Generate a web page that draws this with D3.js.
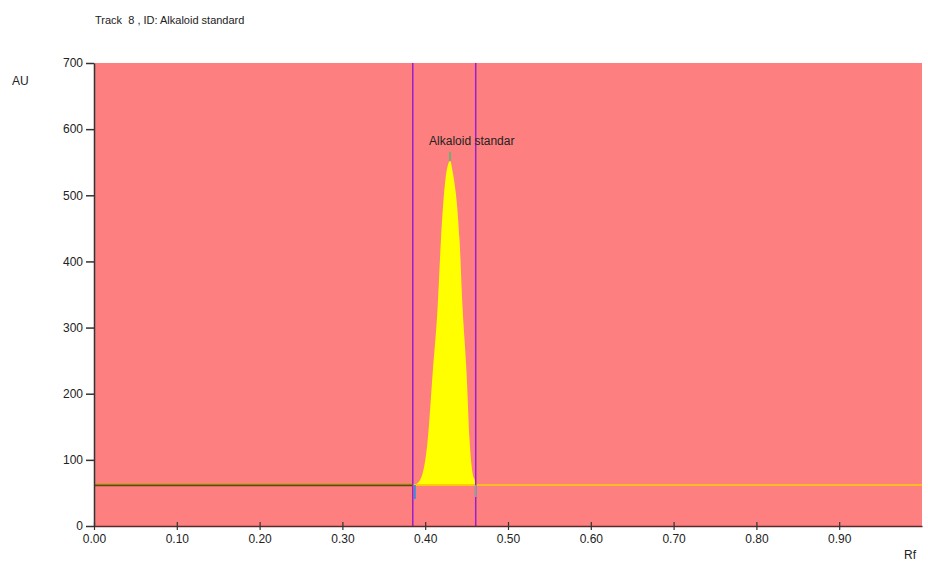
<!DOCTYPE html>
<html>
<head>
<meta charset="utf-8">
<script src="https://cdn.jsdelivr.net/npm/d3@7"></script>
<style>
  body { margin: 0; background: #fff; }
  text { font-family: "Liberation Sans", Arial, sans-serif; fill: #222; }
</style>
</head>
<body>
<div id="chart"></div>
<script>
// Data
const trackTitle = "Track  8 , ID: Alkaloid standard";
const peakName = "Alkaloid standar";
const yTicks = [0, 100, 200, 300, 400, 500, 600, 700];
const xTicks = [0, 0.1, 0.2, 0.3, 0.4, 0.5, 0.6, 0.7, 0.8, 0.9];

// baseline before and after the peak (Rf, AU)
const baselineLeft = [[0, 62], [0.385, 62]];
const baselineRight = [[0.461, 62], [1.0, 62]];

// peak profile (Rf, AU)
const peakRf = [0.385, 0.390, 0.397, 0.403, 0.409, 0.415, 0.419, 0.4255, 0.430, 0.4334, 0.4415, 0.4451, 0.450, 0.4536, 0.4572, 0.4608, 0.461];
const peakAU = [62, 64, 80, 130, 231, 331, 432, 534, 552, 534, 432, 331, 231, 130, 80, 64, 62];

// integration limits (Rf)
const peakStart = 0.385;
const peakEnd = 0.461;
const peakTop = 0.430;

const width = 928, height = 565;
const margin = {top: 63, right: 6, bottom: 39, left: 94};

const svg = d3.select("#chart").append("svg")
  .attr("width", width)
  .attr("height", height);

const x = d3.scaleLinear().domain([0, 1]).range([margin.left, width - margin.right]);
const y = d3.scaleLinear().domain([0, 700]).range([height - margin.bottom, margin.top]);

// plot background
svg.append("rect")
  .attr("x", x(0))
  .attr("y", y(700))
  .attr("width", x(1) - x(0))
  .attr("height", y(0) - y(700))
  .attr("fill", "#fe7f7f");

// peak fill
const peak = peakRf.map((r, i) => [r, peakAU[i]]);
svg.append("path")
  .datum(peak)
  .attr("fill", "#ffff00")
  .attr("d", d3.area()
    .x(d => x(d[0]))
    .y0(y(62))
    .y1(d => y(d[1]))
    .curve(d3.curveMonotoneX));

// baselines
const line = d3.line().x(d => x(d[0])).y(d => y(d[1]));
svg.append("path").datum(baselineLeft)
  .attr("fill", "none").attr("stroke", "#5a4a14").attr("stroke-width", 2.5)
  .attr("d", line);
svg.append("path").datum(baselineLeft)
  .attr("fill", "none").attr("stroke", "#e0b020").attr("stroke-width", 1)
  .attr("transform", "translate(0,-1)")
  .attr("d", line);
svg.append("path").datum([[peakStart, 62], [peakEnd, 62]])
  .attr("fill", "none").attr("stroke", "#ffcc00").attr("stroke-width", 2)
  .attr("d", line);
svg.append("path").datum(baselineRight)
  .attr("fill", "none").attr("stroke", "#ffbb22").attr("stroke-width", 2)
  .attr("d", line);

// peak limit lines
[peakStart, peakEnd].forEach(r => {
  svg.append("line")
    .attr("x1", x(r)).attr("x2", x(r))
    .attr("y1", y(700)).attr("y2", y(0))
    .attr("stroke", "#9a1fd0")
    .attr("stroke-width", 1.5);
});

// small markers at peak start/end and top
svg.append("line")
  .attr("x1", x(peakStart) + 2).attr("x2", x(peakStart) + 2)
  .attr("y1", y(62)).attr("y2", y(62) + 14)
  .attr("stroke", "#3a8fd8").attr("stroke-width", 2);
svg.append("line")
  .attr("x1", x(peakEnd)).attr("x2", x(peakEnd))
  .attr("y1", y(62)).attr("y2", y(62) + 12)
  .attr("stroke", "#8aa0a8").attr("stroke-width", 2);
svg.append("line")
  .attr("x1", x(peakTop)).attr("x2", x(peakTop))
  .attr("y1", y(552) - 9).attr("y2", y(552))
  .attr("stroke", "#6fb070").attr("stroke-width", 2);

// axes
const yAxis = svg.append("g")
  .attr("transform", `translate(${x(0)},0)`)
  .call(d3.axisLeft(y).tickValues(yTicks).tickSize(8).tickSizeOuter(0));
yAxis.select(".domain").attr("stroke", "#333").attr("stroke-width", 1.5);
yAxis.selectAll(".tick line").attr("stroke", "#333").attr("stroke-width", 1.5);
yAxis.selectAll(".tick text")
  .attr("x", -11)
  .style("font-size", "12px")
  .style("font-family", "Liberation Sans, Arial, sans-serif")
  .attr("fill", "#222");

const xAxis = svg.append("g")
  .attr("transform", `translate(0,${y(0)})`)
  .call(d3.axisBottom(x).tickValues(xTicks).tickSize(5).tickSizeOuter(0)
    .tickFormat(d3.format(".2f")));
xAxis.select(".domain").attr("stroke", "#5a2a2a").attr("stroke-width", 1.5);
xAxis.selectAll(".tick line").attr("stroke", "#333").attr("stroke-width", 1.2)
  .attr("y1", -4).attr("y2", 4);
xAxis.selectAll(".tick text")
  .attr("y", 8)
  .style("font-size", "12px")
  .style("font-family", "Liberation Sans, Arial, sans-serif")
  .attr("fill", "#222");

// titles and labels
svg.append("text")
  .attr("x", 95).attr("y", 24)
  .style("font-size", "11px")
  .style("white-space", "pre")
  .text(trackTitle);

svg.append("text")
  .attr("x", 12).attr("y", 85)
  .style("font-size", "12px")
  .text("AU");

svg.append("text")
  .attr("x", 904).attr("y", 559)
  .style("font-size", "12px")
  .text("Rf");

svg.append("text")
  .attr("x", x(peakTop) - 21).attr("y", 145)
  .style("font-size", "12px")
  .text(peakName);
</script>
</body>
</html>
